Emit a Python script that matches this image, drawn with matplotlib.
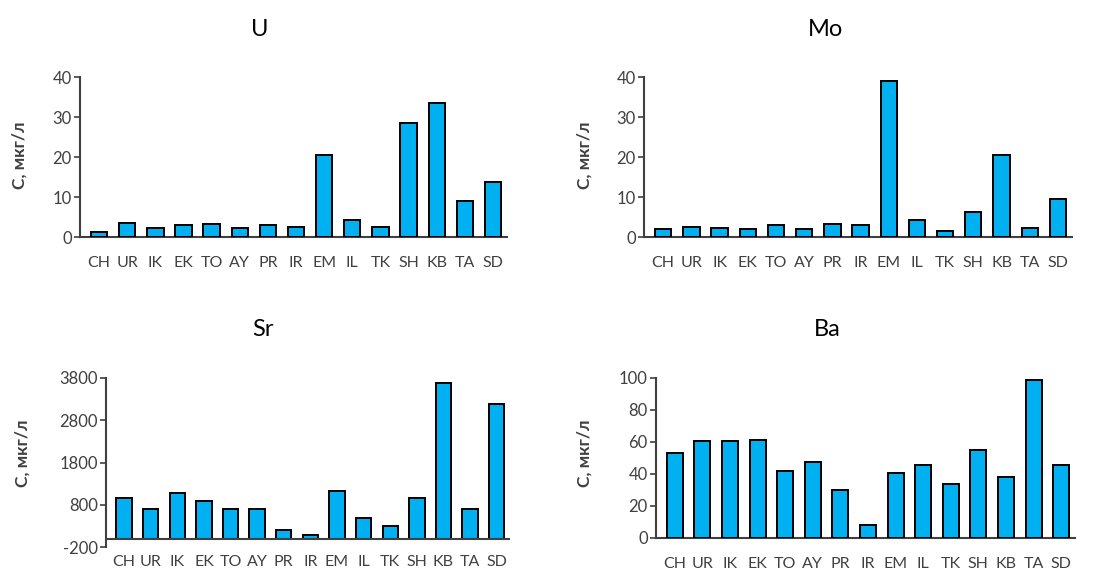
import matplotlib
matplotlib.use('Agg')
import matplotlib.pyplot as plt

plt.rcParams['font.family'] = ['Lato', 'DejaVu Sans']
plt.rcParams['axes.unicode_minus'] = False

# Data
sites = ['CH', 'UR', 'IK', 'EK', 'TO', 'AY', 'PR', 'IR', 'EM', 'IL', 'TK', 'SH', 'KB', 'TA', 'SD']
u_vals = [1.2, 3.5, 2.3, 3.0, 3.2, 2.3, 3.0, 2.6, 20.4, 4.2, 2.6, 28.6, 33.4, 9.0, 13.8]
mo_vals = [1.9, 2.6, 2.2, 1.9, 3.0, 1.9, 3.2, 3.0, 38.9, 4.2, 1.6, 6.2, 20.6, 2.3, 9.5]
sr_vals = [950, 710, 1070, 885, 710, 710, 200, 80, 1120, 475, 290, 950, 3690, 690, 3185]
ba_vals = [53, 60.4, 60.4, 61.5, 41.7, 47.3, 30.2, 8.3, 40.4, 45.8, 34, 54.8, 37.9, 98.5, 45.8]

ylabel = 'С, мкг/л'
grey = '#404040'
W, H = 1099, 574

fig = plt.figure(figsize=(W / 100, H / 100), dpi=100)


def make_panel(rect, vals, title, title_xy, ylab_xy, yticks, ylim, xpad, zero_line=False):
    l, t, r, b = rect
    ax = fig.add_axes([l / W, 1 - b / H, (r - l) / W, (b - t) / H])
    x = range(len(sites))
    ax.bar(x, vals, width=0.58, color='#00B0F0', edgecolor='black', linewidth=1.4, zorder=3)
    ax.set_xlim(-0.68, len(sites) - 0.5)
    ax.set_ylim(*ylim)
    ax.set_yticks(yticks)
    ax.set_xticks(list(x))
    ax.set_xticklabels(sites)
    ax.spines['top'].set_visible(False)
    ax.spines['right'].set_visible(False)
    ax.spines['left'].set_color(grey)
    ax.spines['left'].set_linewidth(1.5)
    if zero_line:
        ax.spines['bottom'].set_visible(False)
        ax.axhline(0, color=grey, linewidth=1.5, zorder=4)
    else:
        ax.spines['bottom'].set_color(grey)
        ax.spines['bottom'].set_linewidth(1.5)
    ax.tick_params(axis='y', length=4, width=1.2, color=grey, labelcolor=grey, labelsize=12, pad=2)
    ax.tick_params(axis='x', length=0, labelcolor=grey, labelsize=11.5, pad=xpad)
    fig.text(title_xy[0] / W, 1 - title_xy[1] / H, title, ha='center', va='center', fontsize=17, color='black')
    fig.text(ylab_xy[0] / W, 1 - ylab_xy[1] / H, ylabel, ha='center', va='center', rotation=90,
             fontsize=12.5, fontweight='bold', color=grey)
    return ax


make_panel((80, 77, 507, 237), u_vals, 'U', (260, 30), (20, 155), [0, 10, 20, 30, 40], (0, 40), 14)
make_panel((644, 77, 1072, 237), mo_vals, 'Mo', (825, 30), (585, 155), [0, 10, 20, 30, 40], (0, 40), 14)
make_panel((106, 378, 510, 547), sr_vals, 'Sr', (263, 330), (23, 453),
           [-200, 800, 1800, 2800, 3800], (-200, 3800), 6, zero_line=True)
make_panel((656, 378, 1075, 538), ba_vals, 'Ba', (827, 330), (585, 453),
           [0, 20, 40, 60, 80, 100], (0, 100), 14)

fig.savefig('out.png', dpi=100)
